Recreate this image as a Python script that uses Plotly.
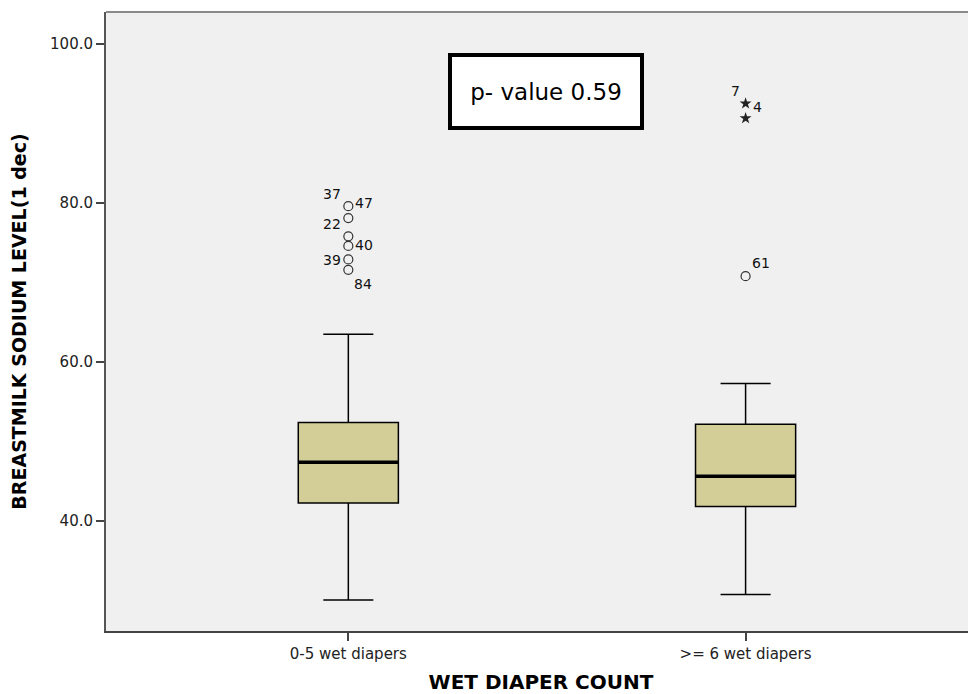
import plotly.graph_objects as go

# ---- data ----
categories = ["0-5 wet diapers", ">= 6 wet diapers"]
cat_pos = [0, 1]
q1 = [42.3, 41.85]
median = [47.4, 45.65]
q3 = [52.4, 52.2]
lower_whisker = [30.1, 30.8]
upper_whisker = [63.5, 57.3]

# outliers (circles) and extremes (stars) with case labels
out_group = [0, 0, 0, 0, 0, 0, 1]
out_values = [79.6, 78.1, 75.8, 74.6, 72.9, 71.6, 70.8]
out_labels = ["37", "47", "22", "40", "39", "84", "61"]
ext_group = [1, 1]
ext_values = [92.5, 90.65]
ext_labels = ["7", "4"]

p_value_text = "p- value 0.59"
y_ticks = [40, 60, 80, 100]

# label placement (pixels, relative to point)
out_label_dx = [-16, 16, -16, 16, -16, 15, 15]
out_label_dy = [12, 15, 12, 1, -1, -14, 13]
ext_label_dx = [-10, 12]
ext_label_dy = [13, 11]

box_w = 0.252
fill = "#D3CE97"
font_main = "DejaVu Sans"

fig = go.Figure()
for i in range(len(categories)):
    fig.add_trace(go.Box(
        x=[cat_pos[i]], q1=[q1[i]], median=[median[i]], q3=[q3[i]],
        lowerfence=[lower_whisker[i]], upperfence=[upper_whisker[i]],
        width=box_w, whiskerwidth=0.5, fillcolor=fill,
        line=dict(color="black", width=1.5), boxpoints=False,
        showlegend=False, hoverinfo="skip"))

# thick median lines
mx, my = [], []
for i in range(len(categories)):
    mx += [cat_pos[i] - box_w / 2, cat_pos[i] + box_w / 2, None]
    my += [median[i], median[i], None]
fig.add_trace(go.Scatter(x=mx, y=my, mode="lines",
                         line=dict(color="black", width=3.5),
                         showlegend=False, hoverinfo="skip"))

fig.add_trace(go.Scatter(
    x=[cat_pos[g] for g in out_group], y=out_values, mode="markers",
    marker=dict(symbol="circle-open", size=9, color="#333333",
                line=dict(width=1.2, color="#333333")),
    showlegend=False, hoverinfo="skip"))
fig.add_trace(go.Scatter(
    x=[cat_pos[g] for g in ext_group], y=ext_values, mode="markers",
    marker=dict(symbol="star", size=9, color="#222222"),
    showlegend=False, hoverinfo="skip"))

for g, v, t, dx, dy in zip(out_group, out_values, out_labels, out_label_dx, out_label_dy):
    fig.add_annotation(x=cat_pos[g], y=v, text=t, showarrow=False,
                       xshift=dx, yshift=dy,
                       font=dict(family=font_main, size=14, color="#111"))
for g, v, t, dx, dy in zip(ext_group, ext_values, ext_labels, ext_label_dx, ext_label_dy):
    fig.add_annotation(x=cat_pos[g], y=v, text=t, showarrow=False,
                       xshift=dx, yshift=dy,
                       font=dict(family=font_main, size=14, color="#111"))

fig.add_annotation(xref="paper", yref="paper", x=0.506, y=0.8716,
                   xanchor="center", yanchor="middle", text=p_value_text,
                   showarrow=False, bgcolor="white", bordercolor="black",
                   borderwidth=4, borderpad=6, width=176, height=57,
                   font=dict(family=font_main, size=23, color="black"))

# top border
fig.add_shape(type="line", xref="paper", yref="paper", x0=0, x1=1, y0=1, y1=1,
              line=dict(color="#8a8a8a", width=2))

fig.update_layout(
    width=968, height=686,
    margin=dict(l=98, r=0, t=4, b=63),
    paper_bgcolor="white", plot_bgcolor="#F0F0F0",
    xaxis=dict(range=[-0.61, 1.58], tickvals=cat_pos, ticktext=categories,
               showgrid=False, zeroline=False, showline=True,
               linecolor="#444444", linewidth=2, ticks="outside", ticklen=8,
               tickcolor="#444444", tickwidth=1.5,
               tickfont=dict(family=font_main, size=15, color="#222"),
               title=dict(text="<b>WET DIAPER COUNT</b>", standoff=15,
                          font=dict(family=font_main, size=20, color="black"))),
    yaxis=dict(range=[26.2, 104.0], tickvals=y_ticks,
               ticktext=[f"{v:.1f}" for v in y_ticks],
               showgrid=False, zeroline=False, showline=True,
               linecolor="#555555", linewidth=2, ticks="outside", ticklen=8,
               tickcolor="#444444", tickwidth=1.5,
               tickfont=dict(family=font_main, size=15, color="#222"),
               title=dict(text="<b>BREASTMILK SODIUM LEVEL(1 dec)</b>", standoff=20,
                          font=dict(family=font_main, size=19, color="black"))),
)

fig.write_html("out.html")
